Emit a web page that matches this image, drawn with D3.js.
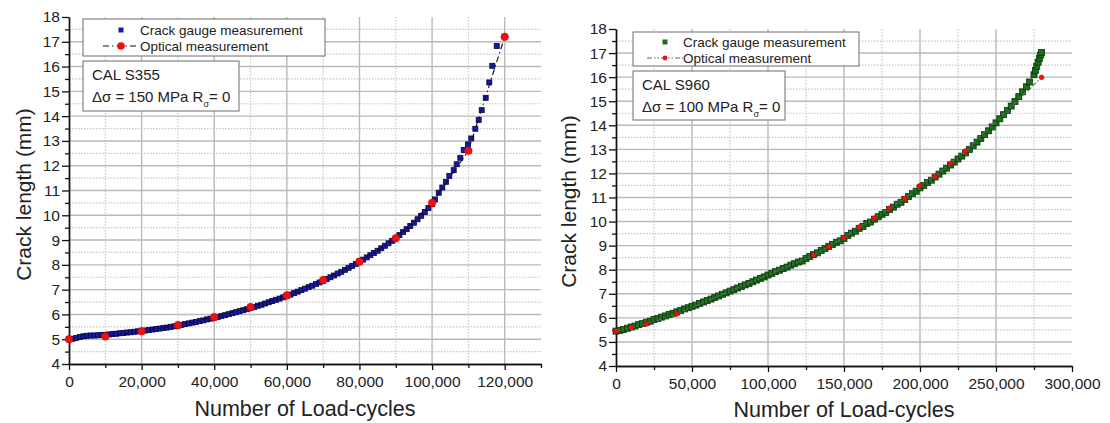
<!DOCTYPE html>
<html>
<head>
<meta charset="utf-8">
<script src="https://cdn.jsdelivr.net/npm/d3@7"></script>
<style>
body { margin: 0; background: #fff; }
svg { display: block; font-family: "Liberation Sans", Arial, sans-serif; }
</style>
</head>
<body>
<div id="graf"></div>
<script>
// ---- data ----
const yTicks = [4, 5, 6, 7, 8, 9, 10, 11, 12, 13, 14, 15, 16, 17, 18]

// left panel : CAL S355
const s355Cycles = [0, 1000, 2000, 3000, 4000, 5000, 6000, 7000, 8000, 9000, 10000, 11000, 12000, 13000, 14000, 15000, 16000, 17000, 18000, 19000,
  20000, 21000, 22000, 23000, 24000, 25000, 26000, 27000, 28000, 29000, 30000, 31000, 32000, 33000, 34000, 35000, 36000, 37000, 38000, 39000,
  40000, 41000, 42000, 43000, 44000, 45000, 46000, 47000, 48000, 49000, 50000, 51000, 52000, 53000, 54000, 55000, 56000, 57000, 58000, 59000,
  60000, 61000, 62000, 63000, 64000, 65000, 66000, 67000, 68000, 69000, 70000, 71000, 72000, 73000, 74000, 75000, 76000, 77000, 78000, 79000,
  80000, 81000, 82000, 83000, 84000, 85000, 86000, 87000, 88000, 89000, 90000, 91000, 92000, 93000, 94000, 95000, 96000, 97000, 98000, 99000,
  100000, 100810, 101830, 102820, 103830, 104750, 105960, 106780, 107780, 108710, 109900, 110800, 111910, 112840, 113670, 114770, 115760, 116590, 117800]
const s355Crack = [5.00, 5.02, 5.05, 5.09, 5.12, 5.14, 5.15, 5.15, 5.16, 5.17, 5.18, 5.19, 5.21, 5.22, 5.24, 5.25, 5.27, 5.28, 5.30, 5.32,
  5.34, 5.35, 5.37, 5.39, 5.41, 5.43, 5.45, 5.47, 5.50, 5.52, 5.55, 5.58, 5.61, 5.64, 5.67, 5.70, 5.73, 5.76, 5.80, 5.83,
  5.87, 5.90, 5.94, 5.97, 6.01, 6.05, 6.09, 6.13, 6.17, 6.21, 6.26, 6.30, 6.35, 6.39, 6.44, 6.49, 6.54, 6.59, 6.64, 6.69,
  6.75, 6.80, 6.86, 6.92, 6.98, 7.04, 7.10, 7.16, 7.23, 7.29, 7.36, 7.43, 7.50, 7.57, 7.65, 7.72, 7.80, 7.88, 7.96, 8.04,
  8.12, 8.21, 8.30, 8.39, 8.48, 8.57, 8.67, 8.77, 8.87, 8.97, 9.08, 9.20, 9.32, 9.44, 9.57, 9.70, 9.84, 9.98, 10.13, 10.29,
  10.45, 10.64, 10.91, 11.12, 11.35, 11.59, 11.82, 12.06, 12.32, 12.63, 12.86, 13.10, 13.49, 13.85, 14.24, 14.74, 15.36, 16.03, 16.83]
const s355OptCycles = [0, 10000, 20000, 30000, 40000, 50000, 60000, 70000, 80000, 90000, 100000, 110000, 120000]
const s355Opt = [5.00, 5.11, 5.32, 5.57, 5.89, 6.30, 6.77, 7.39, 8.13, 9.07, 10.50, 12.60, 17.20]
const s355XTicks = [0, 20000, 40000, 60000, 80000, 100000, 120000]

// right panel : CAL S960
const s960Cycles = [0, 2500, 5000, 7500, 10000, 12500, 15000, 17500, 20000, 22500, 25000, 27500, 30000, 32500, 35000, 37500,
  40000, 42500, 45000, 47500, 50000, 52500, 55000, 57500, 60000, 62500, 65000, 67500, 70000, 72500, 75000, 77500,
  80000, 82500, 85000, 87500, 90000, 92500, 95000, 97500, 100000, 102500, 105000, 107500, 110000, 112500, 115000, 117500,
  120000, 122500, 125000, 127500, 130000, 132500, 135000, 137500, 140000, 142500, 145000, 147500, 150000, 152500, 155000, 157500,
  160000, 162500, 165000, 167500, 170000, 172500, 175000, 177500, 180000, 182500, 185000, 187500, 190000, 192500, 195000, 197500,
  200000, 202500, 205000, 207500, 210000, 212500, 215000, 217500, 220000, 222500, 225000, 227500, 230000, 232500, 235000, 237500,
  240000, 242500, 245000, 247500, 250000, 252500, 255000, 257500, 260000, 262500, 265000, 267500, 270000, 272000,
  275000, 275900, 276800, 277700, 278600, 279400, 280000]
const s960Crack = [5.45, 5.48, 5.52, 5.57, 5.62, 5.66, 5.72, 5.76, 5.82, 5.86, 5.93, 5.97, 6.03, 6.08, 6.14, 6.19,
  6.25, 6.30, 6.37, 6.42, 6.48, 6.53, 6.60, 6.66, 6.72, 6.78, 6.85, 6.91, 6.98, 7.04, 7.11, 7.17,
  7.24, 7.31, 7.37, 7.43, 7.50, 7.57, 7.64, 7.70, 7.78, 7.84, 7.92, 7.98, 8.05, 8.11, 8.19, 8.25,
  8.32, 8.36, 8.47, 8.55, 8.63, 8.70, 8.80, 8.88, 8.97, 9.05, 9.14, 9.20, 9.30, 9.42, 9.52, 9.60,
  9.72, 9.80, 9.92, 9.98, 10.10, 10.20, 10.30, 10.38, 10.50, 10.60, 10.72, 10.80, 10.92, 11.04, 11.16, 11.26,
  11.40, 11.50, 11.62, 11.72, 11.85, 11.97, 12.10, 12.22, 12.35, 12.47, 12.60, 12.72, 12.85, 13.00, 13.15, 13.30,
  13.45, 13.61, 13.77, 13.93, 14.10, 14.27, 14.44, 14.62, 14.80, 14.99, 15.19, 15.39, 15.60, 15.80,
  16.10, 16.28, 16.45, 16.62, 16.78, 16.92, 17.02]
const s960OptCycles = [0, 10000, 20000, 40000, 130000, 140000, 150000, 160000, 170000, 180000, 190000, 200000, 210000, 220000, 230000, 280000]
const s960Opt = [5.45, 5.59, 5.74, 6.16, 8.61, 8.96, 9.33, 9.77, 10.14, 10.56, 10.96, 11.49, 11.88, 12.42, 12.94, 15.99]
const s960XTicks = [0, 50000, 100000, 150000, 200000, 250000, 300000]

const svg = d3.select('#graf').append('svg').attr('width', 1110).attr('height', 423)
const fmt = d3.format(',')

const panel = (o) => {
  const g = svg.append('g')
  const x = d3.scaleLinear().domain([0, o.xMax]).range([o.left, o.right])
  const y = d3.scaleLinear().domain([4, 18]).range([o.bottom, o.top])

  const halfY = yTicks.slice(0, -1).map(v => v + 0.5)
  const step = o.xTicks[1] - o.xTicks[0]
  const minorX = o.xTicks.map(v => v + step / 2).filter(v => v <= o.xMax)

  // grid
  g.selectAll('.hmin').data(halfY).enter().append('line')
    .attr('x1', o.left).attr('x2', o.right).attr('y1', d => y(d)).attr('y2', d => y(d))
    .attr('stroke', '#c8c8c8').attr('stroke-width', 1.2).attr('stroke-dasharray', '1.5,1.5')
  g.selectAll('.vmin').data(minorX.filter(v => v < o.xMax)).enter().append('line')
    .attr('y1', o.top).attr('y2', o.bottom).attr('x1', d => x(d)).attr('x2', d => x(d))
    .attr('stroke', '#c8c8c8').attr('stroke-width', 1.2).attr('stroke-dasharray', '1.5,1.5')
  g.selectAll('.hmaj').data(yTicks.slice(1, -1)).enter().append('line')
    .attr('x1', o.left).attr('x2', o.right).attr('y1', d => y(d)).attr('y2', d => y(d))
    .attr('stroke', '#bababa').attr('stroke-width', 1.4)
  g.selectAll('.vmaj').data(o.xTicks.filter(v => v > 0 && v < o.xMax)).enter().append('line')
    .attr('y1', o.top).attr('y2', o.bottom).attr('x1', d => x(d)).attr('x2', d => x(d))
    .attr('stroke', '#bababa').attr('stroke-width', 1.4)

  // axes
  g.append('g').attr('transform', `translate(${o.left},0)`)
    .call(d3.axisLeft(y).tickValues(yTicks).tickSize(7).tickPadding(2).tickSizeOuter(0))
  g.append('g').attr('transform', `translate(${o.left},0)`)
    .call(d3.axisLeft(y).tickValues(halfY).tickSize(4).tickFormat('').tickSizeOuter(0))
  g.append('g').attr('transform', `translate(0,${o.bottom})`)
    .call(d3.axisBottom(x).tickValues(o.xTicks).tickFormat(d => d === 0 ? '0' : fmt(d)).tickSize(6).tickPadding(6).tickSizeOuter(0))
  g.append('g').attr('transform', `translate(0,${o.bottom})`)
    .call(d3.axisBottom(x).tickValues(minorX).tickSize(4).tickFormat('').tickSizeOuter(0))
  g.selectAll('.domain').attr('stroke', '#111').attr('stroke-width', 1.4)
  g.selectAll('.tick line').attr('stroke', '#111').attr('stroke-width', 1.3)
  g.selectAll('.tick text').attr('font-size', 15.5).attr('fill', '#222')
    .attr('font-family', '"Liberation Sans", Arial, sans-serif')

  // titles
  g.append('text').attr('transform', `translate(${o.yTitleX},${(o.top + o.bottom) / 2 + 4}) rotate(-90)`)
    .attr('text-anchor', 'middle').attr('dy', '0.35em').attr('font-size', 21).attr('fill', '#222')
    .text('Crack length (mm)')
  g.append('text').attr('x', (o.left + o.right) / 2).attr('y', o.xTitleY)
    .attr('text-anchor', 'middle').attr('font-size', 21.5).attr('fill', '#222')
    .text('Number of Load-cycles')

  // crack gauge squares
  g.selectAll('.sq').data(o.cycles).enter().append('rect')
    .attr('x', (d) => x(d) - o.sq / 2)
    .attr('y', (d, i) => y(o.crack[i]) - o.sq / 2)
    .attr('width', o.sq).attr('height', o.sq)
    .attr('fill', o.sqFill).attr('stroke', o.sqStroke).attr('stroke-width', 0.8)

  // optical line + dots
  const line = d3.line().x(d => x(d[0])).y(d => y(d[1]))
  g.append('path').datum(o.optCycles.map((c, i) => [c, o.opt[i]]))
    .attr('d', line).attr('fill', 'none').attr('stroke', o.lineColor)
    .attr('stroke-width', 1.1).attr('stroke-dasharray', o.dash)
  g.selectAll('.dot').data(o.optCycles).enter().append('circle')
    .attr('cx', d => x(d)).attr('cy', (d, i) => y(o.opt[i]))
    .attr('r', o.dotR).attr('fill', '#f01010').attr('stroke', '#c00').attr('stroke-width', 0.5)

  // legend
  const L = o.legend
  g.append('rect').attr('x', L.x).attr('y', L.y).attr('width', L.w).attr('height', L.h)
    .attr('fill', '#fff').attr('stroke', '#6d6d6d')
  g.append('rect').attr('x', L.mx - 2.5).attr('y', L.y1 - 2.5).attr('width', 5).attr('height', 5)
    .attr('fill', o.sqFill)
  g.append('line').attr('x1', L.mx - 18).attr('x2', L.mx + 18).attr('y1', L.y2).attr('y2', L.y2)
    .attr('stroke', o.lineColor).attr('stroke-width', 1.2).attr('stroke-dasharray', o.dash)
  g.append('circle').attr('cx', L.mx).attr('cy', L.y2).attr('r', o.dotR).attr('fill', '#f01010')
  g.append('text').attr('x', L.tx).attr('y', L.y1).attr('dy', '0.35em').attr('font-size', 13.5).attr('fill', '#222')
    .text('Crack gauge measurement')
  g.append('text').attr('x', L.tx).attr('y', L.y2).attr('dy', '0.35em').attr('font-size', 13.5).attr('fill', '#222')
    .text('Optical measurement')

  // annotation
  const A = o.note
  g.append('rect').attr('x', A.x).attr('y', A.y).attr('width', A.w).attr('height', A.h)
    .attr('fill', '#fff').attr('stroke', '#6d6d6d')
  g.append('text').attr('x', A.x + 9).attr('y', A.y + 19).attr('font-size', 15).attr('fill', '#222')
    .text(o.name)
  const t = g.append('text').attr('x', A.x + 9).attr('y', A.y + 41).attr('font-size', 15).attr('fill', '#222')
  t.append('tspan').text(`Δσ = ${o.stress} MPa R`)
  t.append('tspan').attr('font-size', 9).attr('dy', 5).text('σ')
  t.append('tspan').attr('dy', -5).text('= 0')
}

panel({
  left: 69, right: 541, top: 17, bottom: 364, xMax: 130000, xTicks: s355XTicks,
  cycles: s355Cycles, crack: s355Crack, optCycles: s355OptCycles, opt: s355Opt,
  sq: 5, sqFill: '#1818b0', sqStroke: '#05053a', lineColor: '#111', dash: '6,3,1.5,3', dotR: 3.8,
  yTitleX: 24, xTitleY: 416,
  legend: { x: 83, y: 19, w: 242, h: 37, mx: 121, y1: 30, y2: 46, tx: 140 },
  note: { x: 83, y: 61, w: 156, h: 50 }, name: 'CAL S355', stress: 150
})

panel({
  left: 616, right: 1072, top: 29, bottom: 366, xMax: 300000, xTicks: s960XTicks,
  cycles: s960Cycles, crack: s960Crack, optCycles: s960OptCycles, opt: s960Opt,
  sq: 6, sqFill: '#1b6c1b', sqStroke: '#0a360a', lineColor: '#666', dash: '5,2,1.5,2,1.5,2', dotR: 2.4,
  yTitleX: 569, xTitleY: 417,
  legend: { x: 633, y: 32, w: 226, h: 34, mx: 665, y1: 42, y2: 58, tx: 683 },
  note: { x: 633, y: 71, w: 152, h: 49 }, name: 'CAL S960', stress: 100
})
</script>
</body>
</html>
